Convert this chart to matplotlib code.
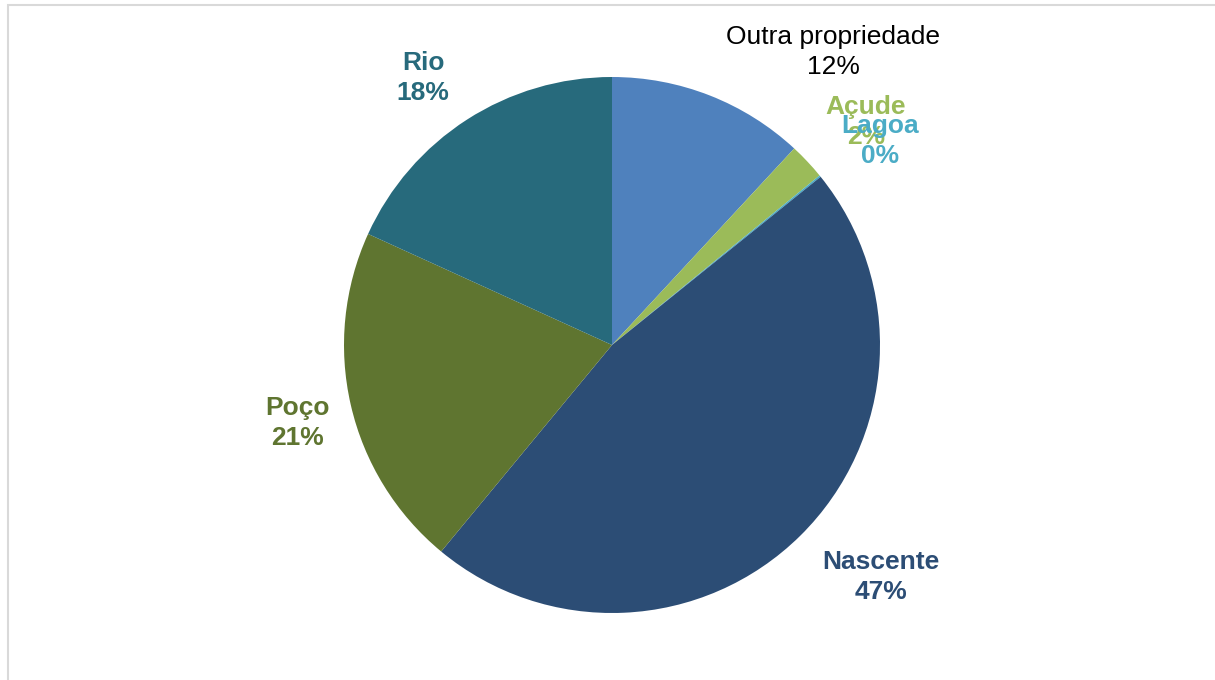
import matplotlib.pyplot as plt
from matplotlib.patches import Rectangle

plt.rcParams['font.family'] = ['Liberation Sans', 'DejaVu Sans']

labels = ['Outra propriedade', 'Açude', 'Lagoa', 'Nascente', 'Poço', 'Rio']
values = [11.9, 2.2, 0.1, 46.8, 20.8, 18.2]
colors = ['#4F81BD', '#9BBB59', '#4BACC6', '#2C4D75', '#5F7530', '#276A7C']
text_colors = ['#000000', '#9BBB59', '#4BACC6', '#2C4D75', '#5F7530', '#276A7C']
bold = [False, True, True, True, True, True]
# label centres, in pie radii from the centre
label_pos = [(0.825, 1.093), (0.948, 0.832), (1.0, 0.761),
             (1.004, -0.866), (-1.175, -0.291), (-0.705, 0.996)]

W, H = 1215, 680
cx, cy, R = 612, 345, 268

fig = plt.figure(figsize=(W / 100, H / 100), dpi=100)
ax = fig.add_axes([0, 0, 1, 1])
ax.pie(values, colors=colors, startangle=90, counterclock=False, radius=1)
ax.set_xlim(-cx / R, (W - cx) / R)
ax.set_ylim(-(H - cy) / R, cy / R)
ax.axis('off')

total = sum(values)
for lab, v, tc, b, (x, y) in zip(labels, values, text_colors, bold, label_pos):
    ax.text(x, y, f"{lab}\n{v / total * 100:.0f}%", ha='center', va='center',
            color=tc, fontsize=19, fontweight='bold' if b else 'normal',
            linespacing=1.33)

# chart frame
fig.patches.append(Rectangle((7.5 / W, -0.1), 1.2, 1 - 5.5 / H + 0.1,
                             transform=fig.transFigure, fill=False,
                             edgecolor='#d9d9d9', linewidth=1.5))

fig.savefig('out.png', dpi=100)
